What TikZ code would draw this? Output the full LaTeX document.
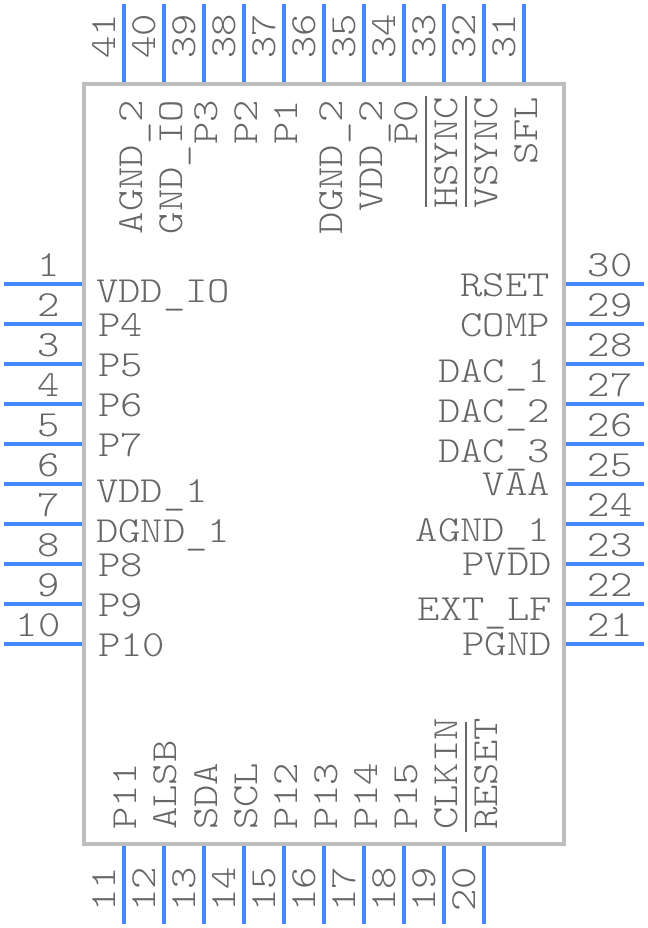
\documentclass[tikz,border=0pt]{standalone}
\usepackage{fontspec}
\newfontfamily\pinfont[FakeStretch=1.156]{Latin Modern Mono Light}
\newcommand{\lowbar}{\raisebox{-1.8pt}{\_}}
\definecolor{pinblue}{HTML}{4488FF}
\definecolor{bodygray}{HTML}{BEBEBE}
\definecolor{textgray}{HTML}{666666}
\tikzset{
  pinline/.style={color=pinblue, line width=3pt},
  bodyline/.style={color=bodygray, line width=3pt},
  overbar/.style={color=textgray, line width=1.5pt},
  pintext/.style={text=textgray, inner sep=0pt, font=\pinfont\fontsize{27.6}{30}\selectfont},
  numh/.style={pintext, anchor=base},
  numv/.style={pintext, anchor=base, rotate=90},
  nameleft/.style={pintext, anchor=base west},
  nameright/.style={pintext, anchor=base east},
  nametop/.style={pintext, anchor=base east, rotate=90},
  namebottom/.style={pintext, anchor=base west, rotate=90}
}
\begin{document}
\begin{tikzpicture}[x=0.75pt,y=0.75pt,yscale=-1,xscale=1]
\useasboundingbox (0,0) rectangle (648,928);

\draw [pinline] (4,284) -- (84,284) ; \node (n1) [numh] at (49,276) {1};
\draw [pinline] (4,324) -- (84,324) ; \node (n2) [numh] at (49,316) {2};
\draw [pinline] (4,364) -- (84,364) ; \node (n3) [numh] at (49,356) {3};
\draw [pinline] (4,404) -- (84,404) ; \node (n4) [numh] at (49,396) {4};
\draw [pinline] (4,444) -- (84,444) ; \node (n5) [numh] at (49,436) {5};
\draw [pinline] (4,484) -- (84,484) ; \node (n6) [numh] at (49,476) {6};
\draw [pinline] (4,524) -- (84,524) ; \node (n7) [numh] at (49,516) {7};
\draw [pinline] (4,564) -- (84,564) ; \node (n8) [numh] at (49,556) {8};
\draw [pinline] (4,604) -- (84,604) ; \node (n9) [numh] at (49,596) {9};
\draw [pinline] (4,644) -- (84,644) ; \node (n10) [numh] at (38,636) {10};

\draw [pinline] (124,844) -- (124,924) ; \node (n11) [numv] at (115,889) {11};
\draw [pinline] (164,844) -- (164,924) ; \node (n12) [numv] at (155,889) {12};
\draw [pinline] (204,844) -- (204,924) ; \node (n13) [numv] at (195,889) {13};
\draw [pinline] (244,844) -- (244,924) ; \node (n14) [numv] at (235,889) {14};
\draw [pinline] (284,844) -- (284,924) ; \node (n15) [numv] at (275,889) {15};
\draw [pinline] (324,844) -- (324,924) ; \node (n16) [numv] at (315,889) {16};
\draw [pinline] (364,844) -- (364,924) ; \node (n17) [numv] at (355,889) {17};
\draw [pinline] (404,844) -- (404,924) ; \node (n18) [numv] at (395,889) {18};
\draw [pinline] (444,844) -- (444,924) ; \node (n19) [numv] at (435,889) {19};
\draw [pinline] (484,844) -- (484,924) ; \node (n20) [numv] at (475,889) {20};

\draw [pinline] (644,644) -- (564,644) ; \node (n21) [numh] at (610,636) {21};
\draw [pinline] (644,604) -- (564,604) ; \node (n22) [numh] at (610,596) {22};
\draw [pinline] (644,564) -- (564,564) ; \node (n23) [numh] at (610,556) {23};
\draw [pinline] (644,524) -- (564,524) ; \node (n24) [numh] at (610,516) {24};
\draw [pinline] (644,484) -- (564,484) ; \node (n25) [numh] at (610,476) {25};
\draw [pinline] (644,444) -- (564,444) ; \node (n26) [numh] at (610,436) {26};
\draw [pinline] (644,404) -- (564,404) ; \node (n27) [numh] at (610,396) {27};
\draw [pinline] (644,364) -- (564,364) ; \node (n28) [numh] at (610,356) {28};
\draw [pinline] (644,324) -- (564,324) ; \node (n29) [numh] at (610,316) {29};
\draw [pinline] (644,284) -- (564,284) ; \node (n30) [numh] at (610,276) {30};

\draw [pinline] (524,84) -- (524,4) ; \node (n31) [numv] at (515,36) {31};
\draw [pinline] (484,84) -- (484,4) ; \node (n32) [numv] at (475,36) {32};
\draw [pinline] (444,84) -- (444,4) ; \node (n33) [numv] at (435,36) {33};
\draw [pinline] (404,84) -- (404,4) ; \node (n34) [numv] at (395,36) {34};
\draw [pinline] (364,84) -- (364,4) ; \node (n35) [numv] at (355,36) {35};
\draw [pinline] (324,84) -- (324,4) ; \node (n36) [numv] at (315,36) {36};
\draw [pinline] (284,84) -- (284,4) ; \node (n37) [numv] at (275,36) {37};
\draw [pinline] (244,84) -- (244,4) ; \node (n38) [numv] at (235,36) {38};
\draw [pinline] (204,84) -- (204,4) ; \node (n39) [numv] at (195,36) {39};
\draw [pinline] (164,84) -- (164,4) ; \node (n40) [numv] at (155,36) {40};
\draw [pinline] (124,84) -- (124,4) ; \node (n41) [numv] at (115,36) {41};

\draw [bodyline] (84,84) -- (564,84) -- (564,844) -- (84,844) -- cycle ;

\node (vddio) [nameleft] at (96,302) {VDD\lowbar IO};
\node (p4) [nameleft] at (98,336) {P4};
\node (p5) [nameleft] at (98,376) {P5};
\node (p6) [nameleft] at (98,416) {P6};
\node (p7) [nameleft] at (98,456) {P7};
\node (vdd1) [nameleft] at (96,502) {VDD\lowbar 1};
\node (dgnd1) [nameleft] at (96,542) {DGND\lowbar 1};
\node (p8) [nameleft] at (98,576) {P8};
\node (p9) [nameleft] at (98,616) {P9};
\node (p10) [nameleft] at (98,656) {P10};

\node (rset) [nameright] at (550,296) {RSET};
\node (comp) [nameright] at (550,336) {COMP};
\node (dac1) [nameright] at (550,382) {DAC\lowbar 1};
\node (dac2) [nameright] at (550,422) {DAC\lowbar 2};
\node (dac3) [nameright] at (550,462) {DAC\lowbar 3};
\node (vaa) [nameright] at (550,495) {VAA};
\node (agnd1) [nameright] at (550,541) {AGND\lowbar 1};
\node (pvdd) [nameright] at (552,575) {PVDD};
\node (extlf) [nameright] at (552,620) {EXT\lowbar LF};
\node (pgnd) [nameright] at (552,655) {PGND};

\node (agnd2) [nametop] at (142,100) {AGND\lowbar 2};
\node (gndio) [nametop] at (182,100) {GND\lowbar IO};
\node (p3) [nametop] at (217,100) {P3};
\node (p2) [nametop] at (257,100) {P2};
\node (p1) [nametop] at (297,100) {P1};
\node (dgnd2) [nametop] at (342,100) {DGND\lowbar 2};
\node (vdd2) [nametop] at (382,100) {VDD\lowbar 2};
\node (p0) [nametop] at (417,100) {P0};
\node (hsync) [nametop] at (457,97) {HSYNC};
\node (vsync) [nametop] at (497,97) {VSYNC};
\node (sfl) [nametop] at (537,97) {SFL};

\node (p11) [namebottom] at (136,830) {P11};
\node (alsb) [namebottom] at (176,830) {ALSB};
\node (sda) [namebottom] at (217,830) {SDA};
\node (scl) [namebottom] at (257,830) {SCL};
\node (p12) [namebottom] at (297,830) {P12};
\node (p13) [namebottom] at (337,830) {P13};
\node (p14) [namebottom] at (377,830) {P14};
\node (p15) [namebottom] at (417,830) {P15};
\node (clkin) [namebottom] at (457,830) {CLKIN};
\node (reset) [namebottom] at (497,830) {RESET};

\draw [overbar] (426,96) -- (426,207) ;
\draw [overbar] (466,96) -- (466,207) ;
\draw [overbar] (466,722) -- (466,832) ;
\end{tikzpicture}
\end{document}
